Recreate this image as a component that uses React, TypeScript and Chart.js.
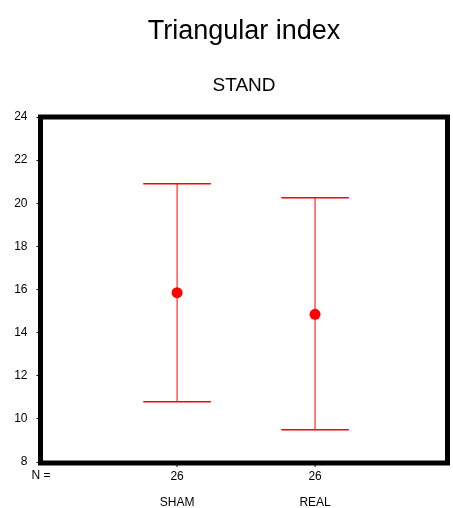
import React, { useEffect, useRef } from "react";
import { Chart, registerables } from "chart.js";

Chart.register(...registerables);

const categories = ["SHAM", "REAL"];
const nCounts = ["26", "26"];
const means = [15.85, 14.85];
const upper = [20.9, 20.25];
const lower = [10.8, 9.5];
const yTickValues = [8, 10, 12, 14, 16, 18, 20, 22, 24];
const titleText = "Triangular index";
const subtitleText = "STAND";

const RED = "#ff0000";
const FONT = "'Liberation Sans', Arial, sans-serif";
const CAP = 0.245;

const decorPlugin = {
  id: "decor",
  afterDraw(chart: any) {
    const { ctx, chartArea } = chart;
    const { left, right, top, bottom } = chartArea;
    const xs = chart.scales.x;
    ctx.save();
    // frame
    ctx.strokeStyle = "#000";
    ctx.lineWidth = 5;
    ctx.strokeRect(left, top, right - left, bottom - top + 1);
    // titles
    const cx = (left + right) / 2;
    ctx.fillStyle = "#000";
    ctx.textAlign = "center";
    ctx.textBaseline = "alphabetic";
    ctx.font = `27px ${FONT}`;
    ctx.fillText(titleText, cx, 39);
    ctx.font = `19px ${FONT}`;
    ctx.fillText(subtitleText, cx, 91);
    // bottom labels
    ctx.font = `12px ${FONT}`;
    ctx.fillText("N =", 41, 479);
    categories.forEach((c, i) => {
      const px = xs.getPixelForValue(i + 1);
      ctx.fillText(nCounts[i], px, 480);
      ctx.fillText(c, px, 506);
      ctx.strokeStyle = "#000";
      ctx.lineWidth = 1;
      ctx.beginPath();
      ctx.moveTo(px, bottom + 2);
      ctx.lineTo(px, bottom + 5);
      ctx.stroke();
    });
    ctx.restore();
  },
};

export default function App() {
  const ref = useRef<HTMLCanvasElement>(null);
  useEffect(() => {
    document.body.style.margin = "0";
    const datasets: any[] = [];
    categories.forEach((c, i) => {
      const x = i + 1;
      datasets.push({
        type: "line",
        label: c + " whisker",
        data: [
          { x, y: lower[i] },
          { x, y: upper[i] },
        ],
        borderColor: RED,
        borderWidth: 1,
        pointRadius: 0,
      });
      datasets.push({
        type: "line",
        label: c + " upper cap",
        data: [
          { x: x - CAP, y: upper[i] },
          { x: x + CAP, y: upper[i] },
        ],
        borderColor: RED,
        borderWidth: 1.5,
        pointRadius: 0,
      });
      datasets.push({
        type: "line",
        label: c + " lower cap",
        data: [
          { x: x - CAP, y: lower[i] },
          { x: x + CAP, y: lower[i] },
        ],
        borderColor: RED,
        borderWidth: 1.5,
        pointRadius: 0,
      });
    });
    datasets.push({
      type: "scatter",
      label: "mean",
      data: means.map((m, i) => ({ x: i + 1, y: m })),
      backgroundColor: RED,
      borderColor: RED,
      pointRadius: 5.5,
      borderWidth: 0,
    });
    const chart = new Chart(ref.current as HTMLCanvasElement, {
      type: "scatter",
      data: { datasets },
      options: {
        animation: false,
        responsive: false,
        devicePixelRatio: 1,
        layout: { padding: { top: 117, left: 0, right: 2, bottom: 46 } },
        plugins: { legend: { display: false }, tooltip: { enabled: false }, title: { display: false } },
        scales: {
          x: { type: "linear", min: 0.01, max: 2.96, display: false },
          y: {
            type: "linear",
            min: 8,
            max: 24,
            afterBuildTicks: (s: any) => {
              s.ticks = yTickValues.map((v) => ({ value: v }));
            },
            afterFit: (s: any) => {
              s.width = 40.5;
            },
            border: { display: false },
            grid: { drawOnChartArea: false, drawTicks: true, tickLength: 4, color: "#000" },
            ticks: { color: "#000", padding: 9, font: { family: FONT, size: 12 } },
          },
        },
      },
      plugins: [decorPlugin],
    } as any);
    return () => chart.destroy();
  }, []);
  return <canvas ref={ref} width={453} height={508} style={{ display: "block" }} />;
}
